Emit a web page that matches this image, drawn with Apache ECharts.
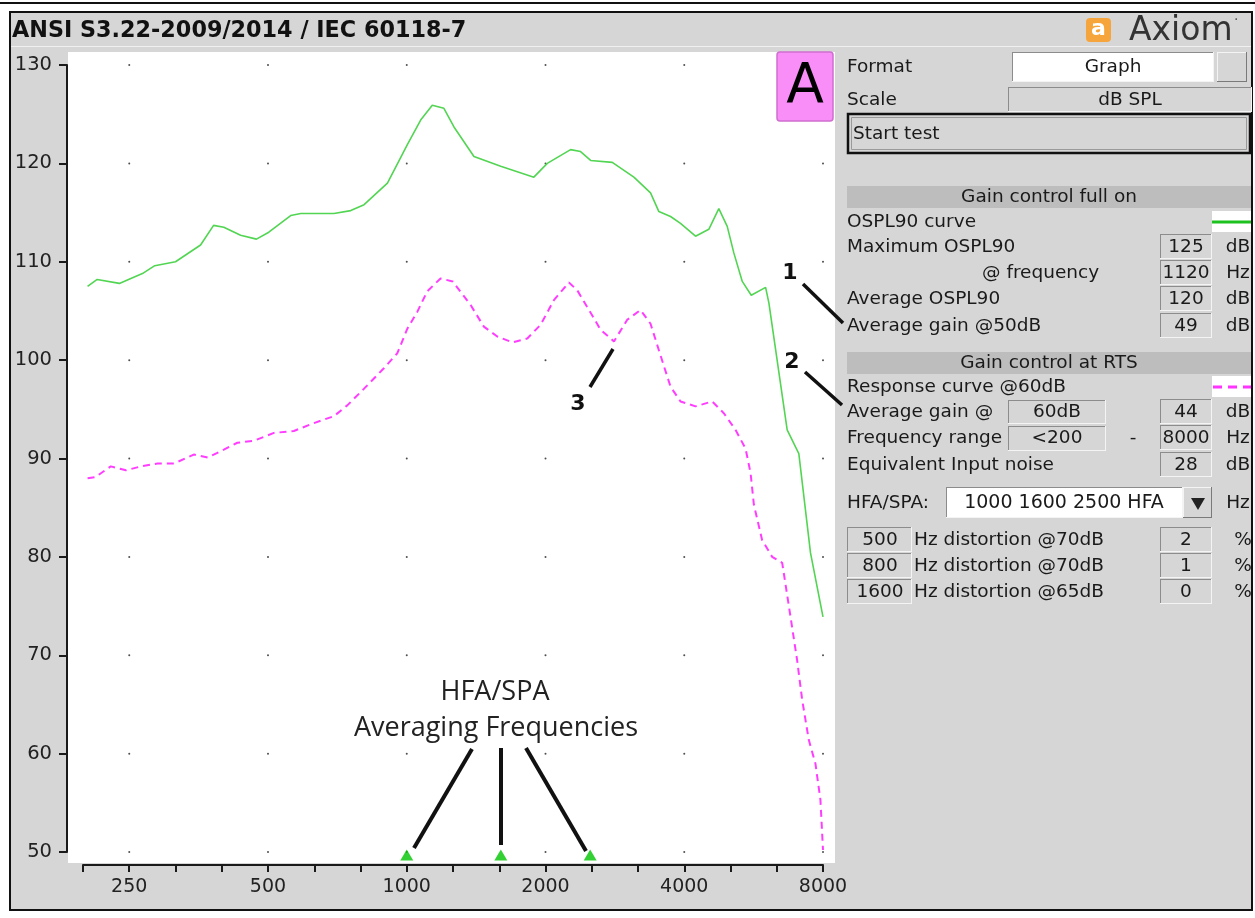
<!DOCTYPE html>
<html><head><meta charset="utf-8">
<script src="https://cdn.jsdelivr.net/npm/echarts@6/dist/echarts.min.js"></script>
<style>html,body{margin:0;padding:0;background:#fff}#c{width:1255px;height:918px}</style>
</head><body><div id="c"></div>
<script>
// ---- data ----
const osplFreqHz = [203,213,238,252,267,284,315,357,381,401,436,472,502,560,589,695,756,808,908,1003,1072,1136,1204,1266,1399,1599,1887,2018,2267,2383,2506,2792,3110,3380,3524,3735,3926,4232,4522,4754,4958,5124,5345,5590,6006,6106,6689,7090,7516,8000];
const osplDb = [107.5,108.2,107.8,108.3,108.8,109.6,110.0,111.7,113.7,113.5,112.7,112.3,113.0,114.7,114.9,114.9,115.2,115.8,118.0,121.9,124.4,125.9,125.6,123.7,120.7,119.7,118.6,120.0,121.4,121.2,120.3,120.1,118.6,117.0,115.1,114.6,113.9,112.6,113.3,115.4,113.6,110.9,108.0,106.6,107.4,105.8,92.9,90.5,80.4,73.9];
const respFreqHz = [203,211,228,246,265,288,313,345,370,401,429,466,515,569,629,695,743,808,893,954,1003,1054,1108,1184,1258,1376,1470,1572,1695,1826,1952,2086,2248,2344,2485,2633,2815,3008,3215,3380,3524,3735,3926,4232,4600,4875,5170,5434,5572,5664,5903,6206,6525,6802,7030,7208,7451,7702,7898,8000];
const respDb = [88.0,88.1,89.2,88.8,89.2,89.5,89.5,90.4,90.1,90.9,91.6,91.8,92.6,92.8,93.6,94.3,95.4,97.1,99.2,100.7,103.2,104.9,107.0,108.3,108.0,105.6,103.4,102.4,101.8,102.2,103.6,106.1,107.9,107.1,105.1,103.1,101.9,104.1,105.1,103.7,101.0,97.3,95.8,95.3,95.8,94.6,92.9,91.0,88.5,85.3,81.7,80.0,79.4,73.9,69.5,65.5,61.4,59.0,55.3,50.2];
const hfaFreqHz = [1000, 1600, 2500];
const hfaLevelDb = 50;
const xTickLabels = ['250','500','1000','2000','4000','8000'];
const yTickLabels = [50,60,70,80,90,100,110,120,130];

// ---- helpers ----
const FONT = '"DejaVu Sans"';
const lg = f => Math.log2(f);
const xMax = lg(8000);
const xMin = xMax - 16/3;

function T(text, x, y, o) {
  o = o || {};
  return {type:'text', z: o.z || 60, silent:true, style:{
    text, x, y,
    font: (o.weight||'normal') + ' ' + (o.size||18.5) + 'px ' + (o.family||FONT),
    fill: o.fill || '#1a1a1a', textAlign: o.align || 'left',
    textVerticalAlign:'middle', verticalAlign:'middle'}};
}
function R(x, y, w, h, fill, stroke, lw, z, r) {
  return {type:'rect', z: z===undefined ? 20 : z, silent:true, shape:{x, y, width:w, height:h, r: r||0},
    style:{fill: fill||'none', stroke: stroke||null, lineWidth: lw||1}};
}
function L(x1, y1, x2, y2, stroke, lw, z, dash) {
  return {type:'line', z: z===undefined ? 60 : z, silent:true, shape:{x1,y1,x2,y2},
    style:{stroke, lineWidth:lw||1, lineDash: dash||null, lineCap:'butt'}};
}
function inset(x, y, w, h, fill) {
  return [R(x, y, w, h, fill||'#d6d6d6', null, 1, 20),
    L(x, y+0.5, x+w, y+0.5, '#8c8c8c', 1, 21), L(x+0.5, y, x+0.5, y+h, '#8c8c8c', 1, 21),
    L(x, y+h-0.5, x+w, y+h-0.5, '#f4f4f4', 1, 21), L(x+w-0.5, y, x+w-0.5, y+h, '#f4f4f4', 1, 21)];
}
function raised(x, y, w, h) {
  return [R(x, y, w, h, '#d6d6d6', null, 1, 20),
    L(x, y+0.5, x+w, y+0.5, '#f4f4f4', 1, 21), L(x+0.5, y, x+0.5, y+h, '#f4f4f4', 1, 21),
    L(x, y+h-0.5, x+w, y+h-0.5, '#7a7a7a', 1, 21), L(x+w-0.5, y, x+w-0.5, y+h, '#7a7a7a', 1, 21)];
}

const g = [];
// window frame and backgrounds
g.push(L(0, 3, 1255, 3, '#111', 2, -10));
g.push(R(10, 12, 1242, 898, '#d6d6d6', '#111', 2, -10));
g.push(L(11, 46.5, 1251, 46.5, '#f0f0f0', 1, -9));
g.push(R(68, 52, 767, 811, '#ffffff', null, 1, -8));
g.push(T('ANSI S3.22-2009/2014 / IEC 60118-7', 12, 31, {weight:'bold', size:22.3, fill:'#111'}));
// logo
g.push(R(1086, 18, 25, 24, '#f6a53c', null, 1, 20, 4));
g.push(T('a', 1098.5, 29, {weight:'bold', size:22, fill:'#ffffff', align:'center'}));
g.push(T('Axiom', 1129, 31, {size:33, fill:'#333'}));
g.push(T('\u00b7', 1234, 20, {size:14, fill:'#555'}));
// A badge
g.push(R(777, 52, 56, 69, '#f98ef9', '#cf6fcf', 1.5, 50, 3));
g.push(T('A', 805, 88, {size:55, align:'center', fill:'#000'}));
// top controls
g.push(T('Format', 847, 67));
g.push(...inset(1012, 52, 202, 30, '#ffffff'));
g.push(T('Graph', 1113, 67, {align:'center'}));
g.push(...raised(1217, 52, 30, 30));
g.push(T('Scale', 847, 100));
g.push(...inset(1008, 87, 244, 25));
g.push(T('dB SPL', 1130, 100, {align:'center'}));
g.push(R(848, 114, 402, 39, '#d6d6d6', '#111', 2.5, 20));
g.push(R(851.5, 117.5, 395, 32, null, '#9a9a9a', 1, 21));
g.push(T('Start test', 853, 134));
// section 1
g.push(R(847, 186, 404, 22, '#bdbdbd', null, 1, 20));
g.push(T('Gain control full on', 1049, 197, {align:'center'}));
g.push(T('OSPL90 curve', 847, 222));
g.push(R(1212, 211, 39, 21, '#ffffff', null, 1, 20));
g.push(L(1212, 222, 1251, 222, '#1ec21e', 3));
const boxRow = (label, lx, y, val, unit) => {
  g.push(T(label, lx, y));
  g.push(...inset(1160, y-13, 52, 25));
  g.push(T(val, 1186, y, {align:'center'}));
  g.push(T(unit, 1238, y, {align:'center'}));
};
boxRow('Maximum OSPL90', 847, 247, '125', 'dB');
boxRow('@ frequency', 982, 273, '1120', 'Hz');
boxRow('Average OSPL90', 847, 299, '120', 'dB');
boxRow('Average gain @50dB', 847, 326, '49', 'dB');
// section 2
g.push(R(847, 352, 404, 22, '#bdbdbd', null, 1, 20));
g.push(T('Gain control at RTS', 1049, 363, {align:'center'}));
g.push(T('Response curve @60dB', 847, 387));
g.push(R(1212, 376, 39, 21, '#ffffff', null, 1, 20));
g.push(L(1213, 387, 1251, 387, '#ff33ff', 3, 60, [9, 6]));
g.push(...inset(1008, 400, 98, 24));
g.push(T('60dB', 1057, 412, {align:'center'}));
boxRow('Average gain @', 847, 412, '44', 'dB');
g.push(...inset(1008, 426, 98, 25));
g.push(T('<200', 1057, 438, {align:'center'}));
g.push(T('-', 1133, 438, {align:'center'}));
boxRow('Frequency range', 847, 438, '8000', 'Hz');
boxRow('Equivalent Input noise', 847, 465, '28', 'dB');
g.push(T('HFA/SPA:', 847, 503));
g.push(...inset(946, 487, 237, 31, '#ffffff'));
g.push(T('1000 1600 2500 HFA', 1064, 503, {align:'center', size:19}));
g.push(...raised(1183, 487, 29, 31));
g.push({type:'polygon', z:60, silent:true, shape:{points:[[1191,498],[1205,498],[1198,510]]}, style:{fill:'#222'}});
g.push(T('Hz', 1238, 503, {align:'center'}));
const distRow = (freq, y, label, val) => {
  g.push(...inset(847, y-13, 65, 25));
  g.push(T(freq, 880, y, {align:'center'}));
  g.push(T(label, 914, y));
  g.push(...inset(1160, y-13, 52, 25));
  g.push(T(val, 1186, y, {align:'center'}));
  g.push(T('%', 1243, y, {align:'center'}));
};
distRow('500', 540, 'Hz distortion @70dB', '2');
distRow('800', 566, 'Hz distortion @70dB', '1');
distRow('1600', 592, 'Hz distortion @65dB', '0');
// annotations
g.push(T('HFA/SPA', 495, 692, {size:27, family:'"Open Sans"', align:'center', fill:'#222', z:100}));
g.push(T('Averaging Frequencies', 496, 728, {size:27, family:'"Open Sans"', align:'center', fill:'#222', z:100}));
g.push(L(472, 749, 414, 848, '#111', 4, 100));
g.push(L(501, 748, 501, 845, '#111', 4, 100));
g.push(L(526, 748, 586, 851, '#111', 4, 100));
g.push(T('1', 790, 273, {weight:'bold', size:22, align:'center', fill:'#111', z:100}));
g.push(L(803, 284, 843, 323, '#111', 3.5, 100));
g.push(T('2', 792, 362, {weight:'bold', size:22, align:'center', fill:'#111', z:100}));
g.push(L(805, 372, 842, 405, '#111', 3.5, 100));
g.push(T('3', 578, 404, {weight:'bold', size:22, align:'center', fill:'#111', z:100}));
g.push(L(613, 349, 590, 387, '#111', 3.5, 100));

// ---- chart ----
const dots = [];
xTickLabels.forEach(l => yTickLabels.forEach(v => dots.push([lg(+l), v])));

const chart = echarts.init(document.getElementById('c'), null, {renderer:'canvas'});
chart.setOption({
  backgroundColor: '#ffffff',
  animation: false,
  grid: {left:83, top:65, width:740, height:787},
  xAxis: {
    type:'value', min:xMin, max:xMax, interval:1/3, offset:13,
    axisLine:{show:true, onZero:false, lineStyle:{color:'#1a1a1a', width:2}},
    axisTick:{show:true, length:7, lineStyle:{color:'#1a1a1a', width:2}},
    axisLabel:{margin:13, fontSize:19, fontFamily:'DejaVu Sans', color:'#222', showMinLabel:true, showMaxLabel:true,
      formatter: v => { const f = Math.pow(2, v); return xTickLabels.find(l => Math.abs(Math.log2(f / +l)) < 0.02) || ''; }},
    splitLine:{show:false}
  },
  yAxis: {
    type:'value', min:50, max:130, interval:10, offset:16,
    axisLine:{show:true, onZero:false, lineStyle:{color:'#1a1a1a', width:2}},
    axisTick:{show:true, length:8, lineStyle:{color:'#1a1a1a', width:2}},
    axisLabel:{margin:15, fontSize:19.5, fontFamily:'DejaVu Sans', color:'#222'},
    splitLine:{show:false}
  },
  series: [
    {type:'scatter', data:dots, symbolSize:2, itemStyle:{color:'#222'}, silent:true, z:1},
    {type:'line', name:'OSPL90', data:osplFreqHz.map((f,i)=>[lg(f), osplDb[i]]), showSymbol:false, silent:true,
      lineStyle:{color:'#52d552', width:1.6}, z:3},
    {type:'line', name:'Response', data:respFreqHz.map((f,i)=>[lg(f), respDb[i]]), showSymbol:false, silent:true,
      lineStyle:{color:'#ff3dff', width:2, type:[7,5]}, z:3},
    {type:'scatter', data:hfaFreqHz.map(f=>[lg(f), hfaLevelDb]), symbol:'triangle', symbolSize:[13,11], symbolOffset:[0,3],
      itemStyle:{color:'#00c400'}, silent:true, clip:false, z:5}
  ],
  graphic: {elements: g}
});
</script>
</body></html>
